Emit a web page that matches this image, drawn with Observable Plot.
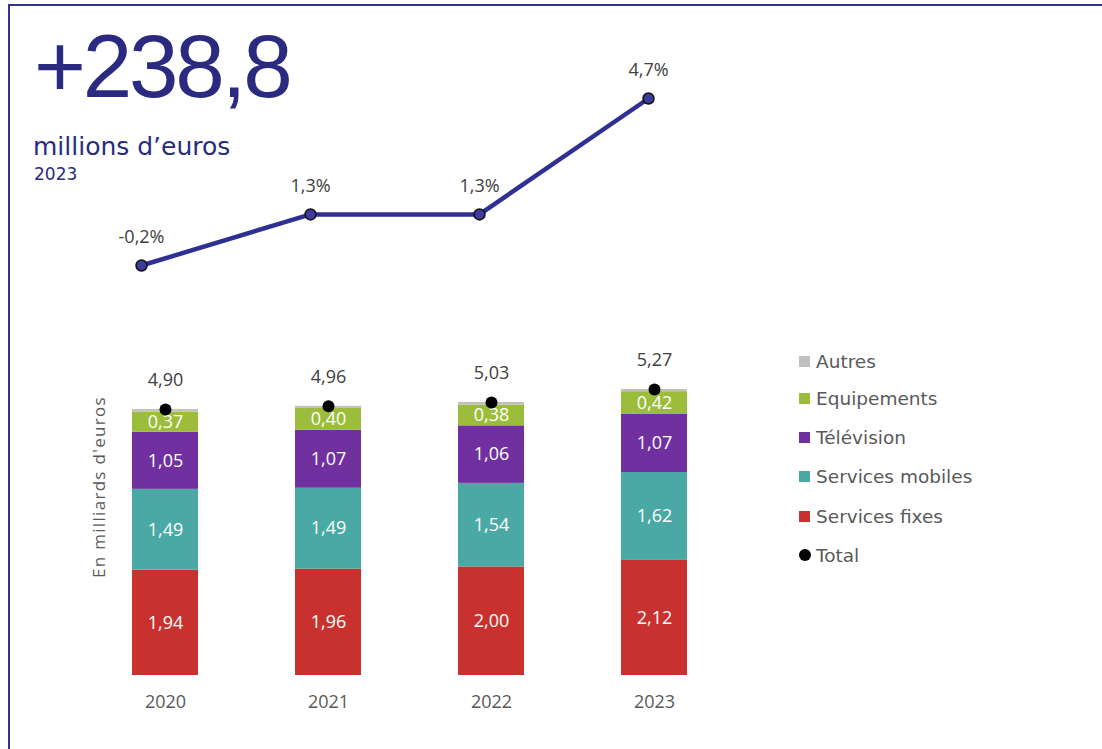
<!DOCTYPE html>
<html>
<head>
<meta charset="utf-8">
<script src="https://cdn.jsdelivr.net/npm/d3@7"></script>
<script src="https://cdn.jsdelivr.net/npm/@observablehq/plot@0.6"></script>
<style>
  html, body { margin: 0; padding: 0; background: #ffffff; }
  #root { position: relative; width: 1102px; height: 749px; overflow: hidden; background: #fff; }
  .abs { position: absolute; white-space: nowrap; }
  #frame { position: absolute; left: 8px; top: 4px; width: 1200px; height: 900px;
           border-left: 2px solid #34348e; border-top: 2px solid #34348e; }
  #big { left: 34px; top: 21.7px; font-family: "Liberation Sans", Arial, sans-serif; font-size: 89px;
         line-height: 1; letter-spacing: -3.2px; color: #2a2b80; }
  #unit { left: 33px; top: 134px; font-family: "DejaVu Sans", sans-serif; font-size: 25px; line-height: 1; color: #2a2b80; }
  #yr { left: 34px; top: 165.6px; font-family: "DejaVu Sans", sans-serif; font-size: 17px; line-height: 1; color: #2a2b80; }
  #ytitle { left: 98px; top: 487px; transform: translate(-50%, -50%) rotate(-90deg);
            font-family: "Open Sans", sans-serif; font-size: 17px; letter-spacing: 1.3px; color: #595959; }
  .leg { position: absolute; left: 799px; height: 24px; display: flex; align-items: center;
         font-family: "DejaVu Sans", sans-serif; font-size: 18.5px; color: #595959; white-space: nowrap; }
  .sw { width: 11px; height: 11px; margin-right: 6px; display: inline-block; }
  .dotsw { width: 12px; height: 12px; border-radius: 50%; margin-right: 5px; display: inline-block; background: #000; }
  svg.plot { position: absolute; left: 0; top: 0; overflow: visible; }
</style>
</head>
<body>
<div id="root">
  <div id="frame"></div>
  <div id="big" class="abs">+238,8</div>
  <div id="unit" class="abs">millions d’euros</div>
  <div id="yr" class="abs">2023</div>
  <div id="ytitle" class="abs">En milliards d'euros</div>
  <div id="legend"></div>
</div>
<script>
// ---- Data ----
const years = ["2020", "2021", "2022", "2023"];
const growth = [-0.2, 1.3, 1.3, 4.7];          // évolution annuelle (%)
const categories = ["Services fixes", "Services mobiles", "Télévision", "Equipements", "Autres"];
const servicesFixes = [1.94, 1.96, 2.00, 2.12];
const servicesMobiles = [1.49, 1.49, 1.54, 1.62];
const television = [1.05, 1.07, 1.06, 1.07];
const equipements = [0.37, 0.40, 0.38, 0.42];
const autres = [0.05, 0.04, 0.05, 0.04];
const totals = [4.90, 4.96, 5.03, 5.27];
const legendOrder = ["Autres", "Equipements", "Télévision", "Services mobiles", "Services fixes"];
const colors = ["#c8312d", "#4aa9a4", "#7030a0", "#9bbd3b", "#c0c0c0"];

const series = [servicesFixes, servicesMobiles, television, equipements, autres];
const stacked = [];
years.forEach((y, i) => categories.forEach((c, k) => stacked.push({year: y, cat: c, value: series[k][i]})));
const totalData = years.map((y, i) => ({year: y, total: totals[i]}));
const growthData = years.map((y, i) => ({year: y, g: growth[i]}));

const fmt2 = v => v.toFixed(2).replace(".", ",");
const fmtPct = v => v.toFixed(1).replace(".", ",") + "%";

const root = document.getElementById("root");

// ---- Line chart (growth) ----
const linePlot = Plot.plot({
  width: 1102, height: 749,
  style: {fontFamily: "Open Sans, sans-serif", fontSize: "18px", background: "transparent", overflow: "visible"},
  x: {type: "point", domain: years, range: [140, 649], padding: 0, axis: null},
  y: {domain: [-0.2, 4.7], range: [265, 98], axis: null},
  marks: [
    Plot.line(growthData, {x: "year", y: "g", stroke: "#2e3192", strokeWidth: 4.5}),
    Plot.dot(growthData, {x: "year", y: "g", r: 5.5, fill: "#3a3b9c", stroke: "#111", strokeWidth: 1.5}),
    Plot.text(growthData, {x: "year", y: "g", text: d => fmtPct(d.g), dy: -28, fill: "#404040", fontSize: 18})
  ]
});
linePlot.classList.add("plot");
root.appendChild(linePlot);

// ---- Stacked bars ----
const barPlot = Plot.plot({
  width: 1102, height: 749, marginBottom: 74,
  style: {fontFamily: "Open Sans, sans-serif", fontSize: "18px", background: "transparent", overflow: "visible"},
  x: {type: "band", domain: years, range: [81.9, 737.2], paddingInner: 0.597, paddingOuter: 0.3},
  y: {domain: [0, 5.27], range: [675, 389], axis: null},
  color: {domain: categories, range: colors},
  marks: [
    Plot.barY(stacked, Plot.stackY({x: "year", y: "value", fill: "cat", z: "cat", order: categories})),
    Plot.text(stacked, Plot.stackY({x: "year", y: "value", z: "cat", order: categories,
      text: d => d.cat === "Autres" ? "" : fmt2(d.value), fill: "white", fontSize: 18})),
    Plot.axisX({tickSize: 0, tickPadding: 20, label: null, fontSize: 18, fill: "#595959"}),
    Plot.dot(totalData, {x: "year", y: "total", r: 6, fill: "#000"}),
    Plot.text(totalData, {x: "year", y: "total", text: d => fmt2(d.total), dy: -29, fill: "#404040", fontSize: 18})
  ]
});
barPlot.classList.add("plot");
root.appendChild(barPlot);

// ---- Legend ----
const legendY = [361, 398, 437, 476, 516, 555];
const leg = document.getElementById("legend");
legendOrder.forEach((name, i) => {
  const row = document.createElement("div");
  row.className = "leg";
  row.style.top = (legendY[i] - 12) + "px";
  const sw = document.createElement("span");
  sw.className = "sw";
  sw.style.background = colors[categories.indexOf(name)];
  row.appendChild(sw);
  row.appendChild(document.createTextNode(name));
  leg.appendChild(row);
});
const trow = document.createElement("div");
trow.className = "leg";
trow.style.top = (legendY[5] - 12) + "px";
const tdot = document.createElement("span");
tdot.className = "dotsw";
trow.appendChild(tdot);
trow.appendChild(document.createTextNode("Total"));
leg.appendChild(trow);
</script>
</body>
</html>
